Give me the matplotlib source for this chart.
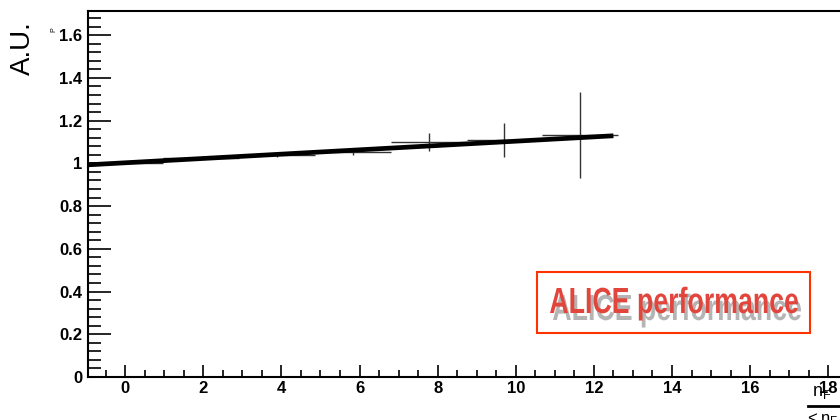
import matplotlib
matplotlib.use("Agg")
import matplotlib.pyplot as plt
from matplotlib.textpath import TextPath
from matplotlib.patches import PathPatch
from matplotlib.font_manager import FontProperties
from matplotlib.transforms import Affine2D
from matplotlib.ticker import MultipleLocator, FormatStrFormatter

# data points (bin centres, ratio, errors)
bin_x = [0.0, 1.94, 3.88, 5.83, 7.77, 9.71, 11.65]
ratio = [1.0, 1.025, 1.039, 1.055, 1.10, 1.11, 1.133]
ratio_err = [0.004, 0.006, 0.01, 0.015, 0.043, 0.08, 0.2]
bin_half = [0.97, 0.97, 0.97, 0.97, 0.97, 0.97, 0.97]

# linear fit drawn over the points
fit_x = [-0.95, 12.5]
fit_y = [0.993, 1.129]

plt.rcParams['font.family'] = ['Liberation Sans', 'DejaVu Sans']
plt.rcParams['mathtext.default'] = 'regular'

W, H = 840, 420
fig = plt.figure(figsize=(8.4, 4.2), dpi=100)
ax = fig.add_axes([0.1048, 0.1024, 0.8952, 0.8714])

ax.errorbar(bin_x, ratio, yerr=ratio_err, xerr=bin_half, fmt='none',
            ecolor='#333333', elinewidth=1.0, capsize=0)
ax.plot(fit_x, fit_y, color='black', linewidth=3.4, solid_capstyle='butt')

ax.set_xlim(-0.95, 18.3)
ax.set_ylim(0, 1.713)

ax.xaxis.set_major_locator(MultipleLocator(2))
ax.xaxis.set_minor_locator(MultipleLocator(0.5))
ax.yaxis.set_major_locator(MultipleLocator(0.2))
ax.yaxis.set_minor_locator(MultipleLocator(0.04))
ax.yaxis.set_major_formatter(FormatStrFormatter('%g'))

ax.tick_params(axis='y', which='major', direction='in', length=16.5, width=1.2,
               pad=4, labelsize=12)
ax.tick_params(axis='y', which='minor', direction='in', length=9.4, width=1.2)
ax.tick_params(axis='x', which='major', direction='in', length=8.6, width=1.2,
               pad=3, labelsize=12)
ax.tick_params(axis='x', which='minor', direction='in', length=5, width=1.2)
for lab in ax.get_xticklabels() + ax.get_yticklabels():
    lab.set_fontweight('bold')

for side in ['left', 'bottom', 'top']:
    ax.spines[side].set_linewidth(1.5)
ax.spines['right'].set_visible(False)

# y title
fig.text(0.027, 0.95, 'A.U.', rotation=90, ha='center', va='top', fontsize=20)
fig.text(0.064, 0.93, 'P', rotation=90, ha='center', va='center', fontsize=5)

# x title as a fraction
fig.text(0.978, 0.065, r'$n_F$', ha='center', va='center', fontsize=13)
fig.add_artist(plt.Line2D([0.962, 1.0], [0.033, 0.033], transform=fig.transFigure,
                          color='black', linewidth=2))
fig.text(0.985, 0.0, r'$<n_F>$', ha='center', va='center', fontsize=12)

# ALICE performance label, squeezed horizontally like a condensed face
box = plt.Rectangle((537 / W, 1 - 333 / H), 273 / W, 61 / H,
                    transform=fig.transFigure, fill=False,
                    edgecolor='#ff3300', linewidth=1.5)
fig.add_artist(box)

prop = FontProperties(family='Liberation Sans', weight='bold')
tp = TextPath((0, 0), 'ALICE performance', size=100, prop=prop)
cap = TextPath((0, 0), 'A', size=100, prop=prop).get_extents().height
ext = tp.get_extents()
sx = 248.0 / ext.width
sy = 25.0 / cap


def stamp(x0, y0, color):
    tr = (Affine2D().translate(-ext.x0, 0).scale(sx / W, sy / H)
          .translate(x0 / W, y0 / H) + fig.transFigure)
    fig.add_artist(PathPatch(tp, transform=tr, facecolor=color,
                             edgecolor='none'))


stamp(553, H - 320, '#b4b4b4')
stamp(550, H - 313, '#e2453b')

fig.savefig('out.png', dpi=100)
